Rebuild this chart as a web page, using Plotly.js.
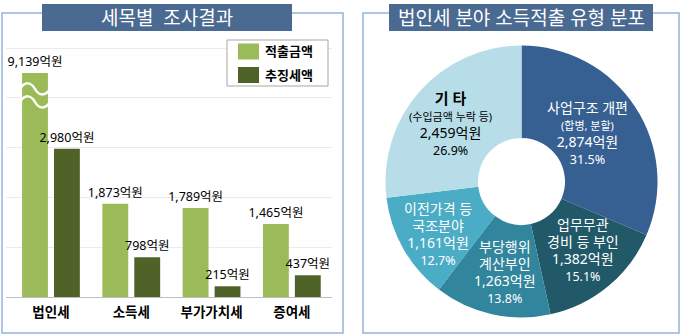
<!DOCTYPE html>
<html>
<head>
<meta charset="utf-8">
<script src="https://cdn.plot.ly/plotly-3.0.1.min.js"></script>
<style>
  html, body { margin: 0; padding: 0; background: #ffffff; }
  #chart { width: 680px; height: 335px; }
</style>
</head>
<body>
<div id="chart"></div>
<script>
// ---------------- data ----------------
const taxCategories = ['법인세', '소득세', '부가가치세', '증여세'];
const seriesNames = ['적출금액', '추징세액'];
const assessedAmounts = [9139, 1873, 1789, 1465];   // 적출금액 (억원)
const collectedAmounts = [2980, 798, 215, 437];     // 추징세액 (억원)
const valueUnit = '억원';

const leftTitle = '세목별  조사결과';
const rightTitle = '법인세 분야 소득적출 유형 분포';

const pieLabelLines = [['사업구조 개편'], ['업무무관', '경비 등 부인'], ['부당행위', '계산부인'], ['이전가격 등', '국조분야'], ['기 타']];
const pieNotes = ['(합병, 분할)', '', '', '', '(수입금액 누락 등)'];
const pieValues = [2874, 1382, 1263, 1161, 2459];
const piePercents = ['31.5%', '15.1%', '13.8%', '12.7%', '26.9%'];

// ---------------- helpers ----------------
const W = 680, H = 335;
const X = px => px / W;
const Y = py => 1 - py / H;
const FONT = "'Noto Sans', 'Noto Sans CJK KR', sans-serif";
const fmt = v => v.toLocaleString('en-US') + valueUnit;

const GREEN = '#9BBB59', DGREEN = '#4F6228';
const pieColors = ['#376092', '#215968', '#31859C', '#4BACC6', '#B7DEE8'];
const pieTextColors = ['#ffffff', '#ffffff', '#ffffff', '#ffffff', '#000000'];
const TITLE_BG = '#4a6a92';
const PANEL_LINE = '#95B3D7';

// broken value axis: lower part and upper part
const LOW_MAX = 4100;
const UP_MIN = 8850, UP_MAX = 9616;

const barCommon = {
  type: 'bar', x: taxCategories, textposition: 'outside', constraintext: 'none',
  textfont: { family: FONT, size: 12.5, color: '#000' }, hoverinfo: 'none', showlegend: false
};
const series = [assessedAmounts, collectedAmounts];
const colors = [GREEN, DGREEN];
const traces = [];
series.forEach((vals, i) => {
  traces.push(Object.assign({}, barCommon, {
    name: seriesNames[i], y: vals, xaxis: 'x', yaxis: 'y',
    marker: { color: colors[i], line: { width: 0 } },
    text: vals.map(v => v <= LOW_MAX ? fmt(v) : '')
  }));
});
series.forEach((vals, i) => {
  traces.push(Object.assign({}, barCommon, {
    name: seriesNames[i], y: vals, xaxis: 'x', yaxis: 'y2',
    marker: { color: colors[i], line: { width: 0 } },
    text: vals.map(v => v >= UP_MIN ? fmt(v) : '')
  }));
});

// pie
const PIE_CX = 521.5, PIE_CY = 181.5, PIE_R = 136;
traces.push({
  type: 'pie', values: pieValues, labels: pieLabelLines.map(l => l.join(' ')),
  sort: false, direction: 'clockwise', rotation: 0, hole: 0.32,
  textinfo: 'none', hoverinfo: 'none', showlegend: false,
  marker: { colors: pieColors, line: { width: 0 } },
  domain: { x: [X(PIE_CX - PIE_R), X(PIE_CX + PIE_R)], y: [Y(PIE_CY + PIE_R), Y(PIE_CY - PIE_R)] }
});

// ---------------- shapes & annotations ----------------
const shapes = [];
const annotations = [];

// panel borders
shapes.push({ type: 'rect', xref: 'paper', yref: 'paper', x0: X(2), x1: X(343), y0: Y(333), y1: Y(13), line: { color: PANEL_LINE, width: 1.5 } });
shapes.push({ type: 'rect', xref: 'paper', yref: 'paper', x0: X(363), x1: X(679), y0: Y(333), y1: Y(13), line: { color: PANEL_LINE, width: 1.5 } });
// title boxes
shapes.push({ type: 'rect', xref: 'paper', yref: 'paper', x0: X(42), x1: X(292), y0: Y(31), y1: Y(4), fillcolor: TITLE_BG, line: { width: 0 } });
shapes.push({ type: 'rect', xref: 'paper', yref: 'paper', x0: X(389), x1: X(653), y0: Y(31), y1: Y(4), fillcolor: TITLE_BG, line: { width: 0 } });
annotations.push({ xref: 'paper', yref: 'paper', x: X(167), y: Y(17.5), text: leftTitle, showarrow: false, xanchor: 'center', yanchor: 'middle', font: { family: FONT, size: 19, color: '#ffffff' } });
annotations.push({ xref: 'paper', yref: 'paper', x: X(521), y: Y(17.5), text: rightTitle, showarrow: false, xanchor: 'center', yanchor: 'middle', font: { family: FONT, size: 19, color: '#ffffff' } });

// axis-break waves on the tall bar
function wave(py) {
  return `M ${X(20)},${Y(py)} C ${X(25)},${Y(py - 8)} ${X(31)},${Y(py - 7)} ${X(35)},${Y(py)} S ${X(45)},${Y(py + 8)} ${X(51)},${Y(py - 1)}`;
}
shapes.push({ type: 'path', xref: 'paper', yref: 'paper', path: wave(89), line: { color: '#ffffff', width: 2.5 } });
shapes.push({ type: 'path', xref: 'paper', yref: 'paper', path: wave(102), line: { color: '#ffffff', width: 2.5 } });

// custom legend
shapes.push({ type: 'rect', xref: 'paper', yref: 'paper', x0: X(227), x1: X(328), y0: Y(86), y1: Y(40), fillcolor: '#ffffff', line: { color: '#a6a6a6', width: 1 } });
seriesNames.forEach((nm, i) => {
  const yc = 51.5 + i * 23.5;
  shapes.push({ type: 'rect', xref: 'paper', yref: 'paper', x0: X(238), x1: X(259), y0: Y(yc + 8), y1: Y(yc - 8), fillcolor: colors[i], line: { width: 0 } });
  annotations.push({ xref: 'paper', yref: 'paper', x: X(263), y: Y(yc), text: nm, showarrow: false, xanchor: 'left', yanchor: 'middle', font: { family: FONT, size: 13, color: '#000', weight: 'bold' } });
});

// pie labels placed near slice mid-angles
const total = pieValues.reduce((a, b) => a + b, 0);
let cum = 0;
const labelRadius = [82, 92, 92, 99, 92];
const ANGLE_SHIFT = -2.5 * Math.PI / 180;
pieValues.forEach((v, i) => {
  const a = 2 * Math.PI * (cum + v / 2) / total + ANGLE_SHIFT;
  cum += v;
  const px = PIE_CX + labelRadius[i] * Math.sin(a);
  const py = PIE_CY - labelRadius[i] * Math.cos(a);
  const isLast = i === pieValues.length - 1;
  let lines = pieLabelLines[i].map(l => isLast ? `<span style="font-size:15px"><b>${l}</b></span>` : `<span style="font-size:14px">${l}</span>`);
  if (pieNotes[i]) lines.push(`<span style="font-size:11px">${pieNotes[i]}</span>`);
  lines.push(`<span style="font-size:14px">${fmt(v)}</span>`);
  lines.push(`<span style="font-size:12.5px">${piePercents[i]}</span>`);
  annotations.push({ xref: 'paper', yref: 'paper', x: X(px), y: Y(py), text: lines.join('<br>'), showarrow: false, xanchor: 'center', yanchor: 'middle', align: 'center', font: { family: FONT, size: 13, color: pieTextColors[i] } });
});

const layout = {
  width: W, height: H,
  margin: { l: 0, r: 0, t: 0, b: 0, pad: 0 },
  paper_bgcolor: '#ffffff', plot_bgcolor: 'rgba(0,0,0,0)',
  font: { family: FONT },
  barmode: 'group', bargap: 0.205, bargroupgap: 0.19,
  xaxis: {
    domain: [X(6), X(332)], range: [-0.56, 3.5], anchor: 'y', type: 'category',
    showgrid: false, zeroline: false, showline: true, linecolor: '#bfbfbf', linewidth: 1,
    ticks: 'outside', ticklen: 3, tickcolor: 'rgba(0,0,0,0)',
    tickfont: { family: FONT, size: 13.5, color: '#000', weight: 'bold' }, fixedrange: true
  },
  yaxis: {
    domain: [Y(297), Y(93)], range: [0, LOW_MAX], dtick: 1000, tick0: 0, anchor: 'x',
    showgrid: true, gridcolor: '#ebebeb', gridwidth: 1, zeroline: false, showticklabels: false, ticks: '', fixedrange: true
  },
  yaxis2: {
    domain: [Y(93), Y(40)], range: [UP_MIN, UP_MAX], tickvals: [9500], anchor: 'x',
    showgrid: true, gridcolor: '#ebebeb', gridwidth: 1, zeroline: false, showticklabels: false, ticks: '', fixedrange: true
  },
  shapes: shapes,
  annotations: annotations
};

Plotly.newPlot('chart', traces, layout, { displayModeBar: false, staticPlot: true });
</script>
</body>
</html>
